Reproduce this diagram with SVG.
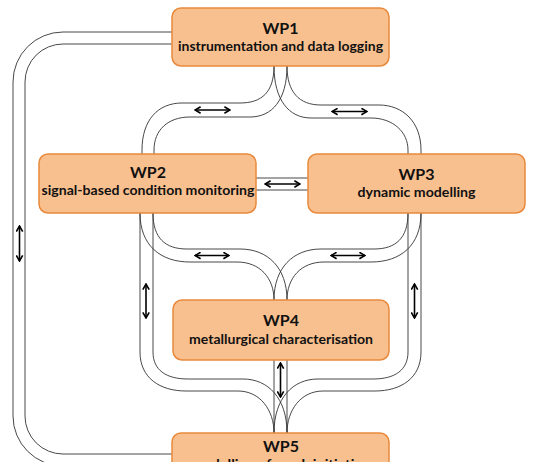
<svg xmlns="http://www.w3.org/2000/svg" width="534" height="462" viewBox="0 0 534 462">
<style>
.box{fill:#F9C08F;stroke:#E8893B;stroke-width:1.5}
.ch{fill:none;stroke:#333;stroke-width:0.9}
.ar{fill:none;stroke:#000;stroke-width:1.6;marker-start:url(#ah);marker-end:url(#ah)}
.t1{font-family:Lato,"Open Sans",sans-serif;font-weight:bold;font-size:16px;fill:#111;text-anchor:middle}
.t2{font-family:Lato,"Open Sans",sans-serif;font-weight:bold;font-size:13px;fill:#111;text-anchor:middle}
</style>
<defs>
<marker id="ah" viewBox="0 0 10 10" refX="9" refY="5" markerWidth="8" markerHeight="8" markerUnits="userSpaceOnUse" orient="auto-start-reverse">
<path d="M2,1 L9,5 L2,9" fill="none" stroke="#000" stroke-width="2"/>
</marker>
</defs>
<rect width="534" height="462" fill="#fff"/>
<g id="connectors">
<path class="ch" d="M172,32 L63,32 A50,50 0 0 0 13,82 L13,416 A50,50 0 0 0 63,466 L172,466"/>
<path class="ch" d="M172,44 L63,44 A38,38 0 0 0 25,82 L25,416 A38,38 0 0 0 63,454 L172,454"/>
<path class="ch" d="M274,66 C274,92 262,103 240,103 L182,103 C158,103 142,120 142,150 L142,154"/>
<path class="ch" d="M287,66 C287,100 272,117 250,117 L190,117 C168,117 154,130 154,150 L154,154"/>
<path class="ch" d="M287,66 C287,92 299,105 321,105 L379,105 C403,105 421,122 421,150 L421,154"/>
<path class="ch" d="M274,66 C274,100 289,118 311,118 L371,118 C393,118 408,132 408,150 L408,154"/>
<path class="ch" d="M256,178 L308,178 M256,190 L308,190"/>
<path class="ch" d="M153,213 C153,238 165,249 187,249 L240,249 C268,249 287,268 287,300"/>
<path class="ch" d="M140,213 C140,245 160,262 190,262 L237,262 C260,262 274,278 274,300"/>
<path class="ch" d="M408,213 C408,238 396,249 374,249 L321,249 C293,249 274,268 274,300"/>
<path class="ch" d="M421,213 C421,245 401,262 371,262 L324,262 C301,262 287,278 287,300"/>
<path class="ch" d="M153,213 L153,352 C153,370 166,379 188,379 L243,379 C268,379 287,398 287,433"/>
<path class="ch" d="M140,213 L140,352 C140,378 160,391 186,391 L238,391 C260,391 274,410 274,433"/>
<path class="ch" d="M408,213 L408,352 C408,370 395,379 373,379 L318,379 C293,379 274,398 274,433"/>
<path class="ch" d="M421,213 L421,352 C421,378 401,391 375,391 L323,391 C301,391 287,410 287,433"/>
<path class="ch" d="M274,360 L274,433 M287,360 L287,433"/>
<line class="ar" x1="195" y1="110" x2="230" y2="110"/>
<line class="ar" x1="332" y1="111.5" x2="367" y2="111.5"/>
<line class="ar" x1="265" y1="184" x2="300" y2="184"/>
<line class="ar" x1="195" y1="255.5" x2="229" y2="255.5"/>
<line class="ar" x1="331" y1="255.5" x2="365" y2="255.5"/>
<line class="ar" x1="146" y1="284" x2="146" y2="318"/>
<line class="ar" x1="414.5" y1="284" x2="414.5" y2="318"/>
<line class="ar" x1="280.5" y1="363" x2="280.5" y2="397"/>
<line class="ar" x1="19.5" y1="226" x2="19.5" y2="261"/>
</g>
<g id="wp1">
<rect class="box" x="172" y="8" width="217" height="58" rx="9"/>
<text class="t1" x="280.5" y="34">WP1</text>
<text class="t2" x="280.5" y="51" textLength="205" lengthAdjust="spacingAndGlyphs">instrumentation and data logging</text>
</g>
<g id="wp2">
<rect class="box" x="39" y="154" width="217" height="59" rx="9"/>
<text class="t1" x="148" y="178">WP2</text>
<text class="t2" x="148" y="195" textLength="213" lengthAdjust="spacingAndGlyphs">signal-based condition monitoring</text>
</g>
<g id="wp3">
<rect class="box" x="308" y="154" width="217" height="59" rx="9"/>
<text class="t1" x="416.5" y="180">WP3</text>
<text class="t2" x="416.5" y="197" textLength="118" lengthAdjust="spacingAndGlyphs">dynamic modelling</text>
</g>
<g id="wp4">
<rect class="box" x="173" y="300" width="216" height="60" rx="9"/>
<text class="t1" x="281" y="326">WP4</text>
<text class="t2" x="281" y="344" textLength="184" lengthAdjust="spacingAndGlyphs">metallurgical characterisation</text>
</g>
<g id="wp5">
<rect class="box" x="172" y="433" width="217" height="58" rx="9"/>
<text class="t1" x="281" y="452">WP5</text>
<text class="t2" x="281" y="469" textLength="180" lengthAdjust="spacingAndGlyphs">modelling of crack initiation</text>
</g>
</svg>
